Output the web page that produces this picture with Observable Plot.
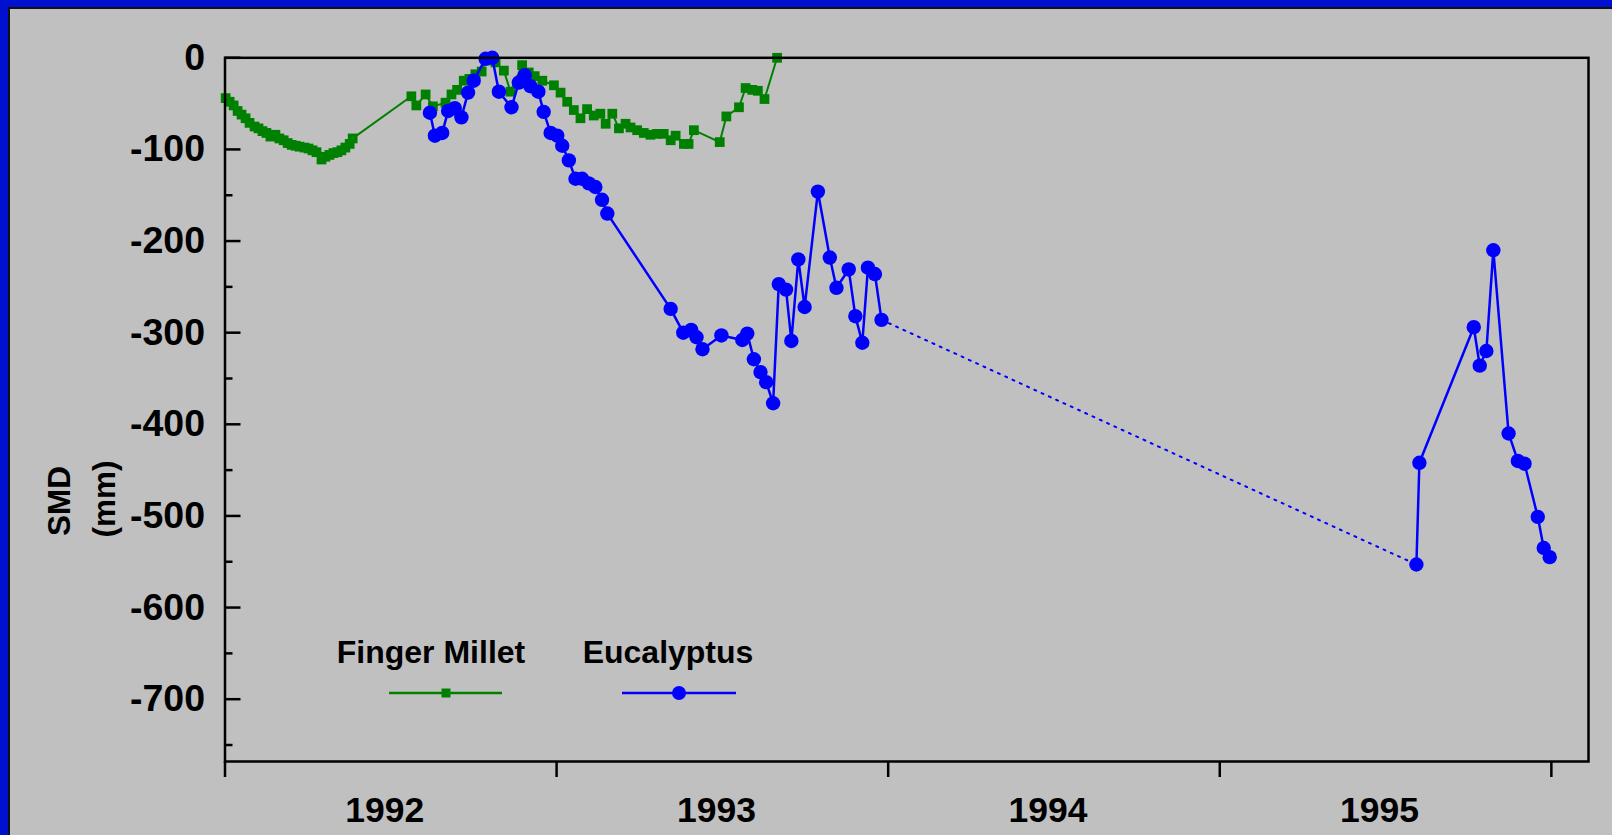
<!DOCTYPE html>
<html>
<head>
<meta charset="utf-8">
<script src="https://cdn.jsdelivr.net/npm/d3@7"></script>
<script src="https://cdn.jsdelivr.net/npm/@observablehq/plot@0.6"></script>
<style>
html, body { margin: 0; padding: 0; width: 1612px; height: 835px; overflow: hidden; }
#page { position: relative; width: 1612px; height: 835px; background: #0010d0; font-family: "Liberation Sans", Arial, sans-serif; font-weight: bold; }
#panel { position: absolute; left: 8px; top: 7px; right: 0; bottom: 0; background: #c0c0c0; border-top: 2px solid #111; border-left: 2px solid #111; }
#chart { position: absolute; left: 0; top: 0; }
#legend { position: absolute; left: 0; top: 0; pointer-events: none; }
.ytitle { position: absolute; font-size: 31.5px; line-height: 1; white-space: nowrap; transform: translate(-50%, -50%) rotate(-90deg); color: #000; }
</style>
</head>
<body>
<div id="page">
  <div id="panel"></div>
  <div id="chart"></div>
  <div class="ytitle" id="yt1" style="left:60px; top:501px;">SMD</div>
  <div class="ytitle" id="yt2" style="left:105px; top:499px;">(mm)</div>
  <svg id="legend" width="1612" height="835"></svg>
</div>
<script>
// ---------- data ----------
const seriesNames = ["Finger Millet", "Eucalyptus"];
const yearLabels = ["1992", "1993", "1994", "1995"];
const yMajorTicks = [0, -100, -200, -300, -400, -500, -600, -700];
const yMinorTicks = [-50, -150, -250, -350, -450, -550, -650, -750];
const xYearTicks = [1992, 1993, 1994, 1995, 1996];

const fmYears = [
  1992.002, 1992.014, 1992.026, 1992.038, 1992.050, 1992.062, 1992.074, 1992.089, 1992.101, 1992.113,
  1992.125, 1992.137, 1992.152, 1992.164, 1992.177, 1992.189, 1992.201, 1992.213, 1992.225, 1992.240,
  1992.252, 1992.264, 1992.276, 1992.291, 1992.303, 1992.315, 1992.327, 1992.339, 1992.351, 1992.363,
  1992.376, 1992.385,
  1992.562, 1992.577, 1992.605, 1992.627, 1992.665, 1992.683, 1992.700, 1992.720, 1992.737, 1992.755,
  1992.774, 1992.786, 1992.816, 1992.841, 1992.861, 1992.896, 1992.916, 1992.934, 1992.957, 1992.992,
  1993.012, 1993.032, 1993.052, 1993.072, 1993.092, 1993.112, 1993.132, 1993.148, 1993.168, 1993.188,
  1993.208, 1993.223, 1993.243, 1993.263, 1993.283, 1993.303, 1993.323, 1993.344, 1993.359, 1993.384,
  1993.398, 1993.414, 1993.492, 1993.512, 1993.550, 1993.570, 1993.590, 1993.607, 1993.627, 1993.665
];
const fmSMD = [
  -44, -48, -52, -58, -62, -66, -71, -75, -77, -80,
  -82, -86, -84, -88, -90, -93, -95, -96, -97, -98,
  -99, -101, -103, -111, -108, -106, -104, -103, -101, -98,
  -94, -88,
  -42, -52, -40, -53, -49, -40, -35, -25, -23, -18,
  -15, -3, -5, -14, -37, -8, -16, -20, -25, -30,
  -38, -48, -57, -66, -56, -63, -61, -72, -61, -77,
  -72, -76, -79, -82, -84, -83, -83, -90, -85, -94,
  -94, -79, -92, -64, -54, -33, -35, -36, -45, 0
];

const euYears = [
  1992.618, 1992.633, 1992.655, 1992.673, 1992.693, 1992.713, 1992.733, 1992.750, 1992.786, 1992.806,
  1992.826, 1992.864, 1992.886, 1992.904, 1992.921, 1992.945, 1992.961, 1992.982, 1993.002, 1993.017,
  1993.037, 1993.057, 1993.077, 1993.097, 1993.117, 1993.137, 1993.153, 1993.344, 1993.382, 1993.406,
  1993.422, 1993.440, 1993.497, 1993.560, 1993.575, 1993.595, 1993.615, 1993.632, 1993.653, 1993.670,
  1993.692, 1993.708, 1993.729, 1993.748, 1993.788, 1993.824, 1993.844, 1993.881, 1993.901, 1993.922,
  1993.939, 1993.960, 1993.980,
  1995.593, 1995.602, 1995.766, 1995.784, 1995.804, 1995.825, 1995.871, 1995.899, 1995.919, 1995.959,
  1995.977, 1995.995
];
const euSMD = [
  -60, -85, -82, -58, -55, -65, -38, -25, -1, 0,
  -37, -54, -27, -19, -31, -37, -59, -82, -85, -96,
  -112, -132, -132, -137, -141, -155, -170, -274, -300, -297,
  -305, -318, -303, -308, -301, -329, -343, -354, -377, -247,
  -253, -309, -220, -272, -146, -218, -251, -231, -282, -311,
  -229, -236, -286,
  -553, -442, -294, -336, -320, -210, -410, -440, -443, -501,
  -535, -545
];

const seriesColors = ["#008000", "#0000ff"];

// ---------- build ----------
const fm = fmYears.map((x, i) => ({x, y: fmSMD[i]}));
const eu = euYears.map((x, i) => ({x, y: euSMD[i]}));
const euA = eu.filter(d => d.x < 1995);
const euB = eu.filter(d => d.x >= 1995);
const euGap = [euA[euA.length - 1], euB[0]];

const W = 1612, H = 835;
const mL = 224.5, mR = 24, mT = 57.3, mB = 74;
const fw = W - mL - mR, fh = H - mT - mB;

const chart = Plot.plot({
  width: W, height: H,
  marginLeft: mL, marginRight: mR, marginTop: mT, marginBottom: mB,
  style: {background: "transparent", fontFamily: "'Liberation Sans', Arial, sans-serif", fontSize: "36px", fontWeight: "bold", color: "#000", overflow: "visible"},
  x: {domain: [1992, 1996.112]},
  y: {domain: [-768, 0]},
  marks: [
    Plot.tickY(yMajorTicks, {y: d => d, stroke: "#000", strokeWidth: 2.5, insetRight: fw - 16}),
    Plot.tickY(yMinorTicks, {y: d => d, stroke: "#000", strokeWidth: 2.5, insetRight: fw - 8}),
    Plot.tickX(xYearTicks, {x: d => d, stroke: "#000", strokeWidth: 2.5, insetTop: fh, insetBottom: -16}),
    Plot.axisY(yMajorTicks, {tickSize: 0, tickPadding: 20, tickFormat: d => String(d), label: null, fontSize: 37.5}),
    Plot.axisX(yearLabels.map(d => +d + 0.5), {tickSize: 0, tickPadding: 35, dx: -6, tickFormat: d => String(Math.floor(d)), label: null, fontSize: 35.5}),
    Plot.line(fm, {x: "x", y: "y", stroke: seriesColors[0], strokeWidth: 2}),
    Plot.dot(fm, {x: "x", y: "y", symbol: "square", r: 5.5, fill: seriesColors[0]}),
    Plot.line(euGap, {x: "x", y: "y", stroke: seriesColors[1], strokeWidth: 2, strokeDasharray: "2,6"}),
    Plot.line(euA, {x: "x", y: "y", stroke: seriesColors[1], strokeWidth: 2.5}),
    Plot.line(euB, {x: "x", y: "y", stroke: seriesColors[1], strokeWidth: 2.5}),
    Plot.dot(eu, {x: "x", y: "y", r: 7.2, fill: seriesColors[1]}),
    Plot.frame({stroke: "#000", strokeWidth: 2.5})
  ]
});
document.getElementById("chart").appendChild(chart);

// ---------- legend ----------
const lg = d3.select("#legend");
const legendItems = [
  {name: seriesNames[0], color: seriesColors[0], cx: 446, x1: 389, x2: 502, sym: "square"},
  {name: seriesNames[1], color: seriesColors[1], cx: 679, x1: 622, x2: 736, sym: "circle"}
];
const legendTextX = [431, 668];
legendItems.forEach((it, i) => {
  lg.append("text").attr("x", legendTextX[i]).attr("y", 663).attr("text-anchor", "middle")
    .attr("font-family", "'Liberation Sans', Arial, sans-serif").attr("font-weight", "bold")
    .attr("font-size", 32).attr("fill", "#000").text(it.name);
  lg.append("line").attr("x1", it.x1).attr("x2", it.x2).attr("y1", 693).attr("y2", 693)
    .attr("stroke", it.color).attr("stroke-width", 2.5);
  if (it.sym === "square") {
    lg.append("rect").attr("x", it.cx - 4.5).attr("y", 693 - 4.5).attr("width", 9).attr("height", 9).attr("fill", it.color);
  } else {
    lg.append("circle").attr("cx", it.cx).attr("cy", 693).attr("r", 7).attr("fill", it.color);
  }
});
</script>
</body>
</html>
